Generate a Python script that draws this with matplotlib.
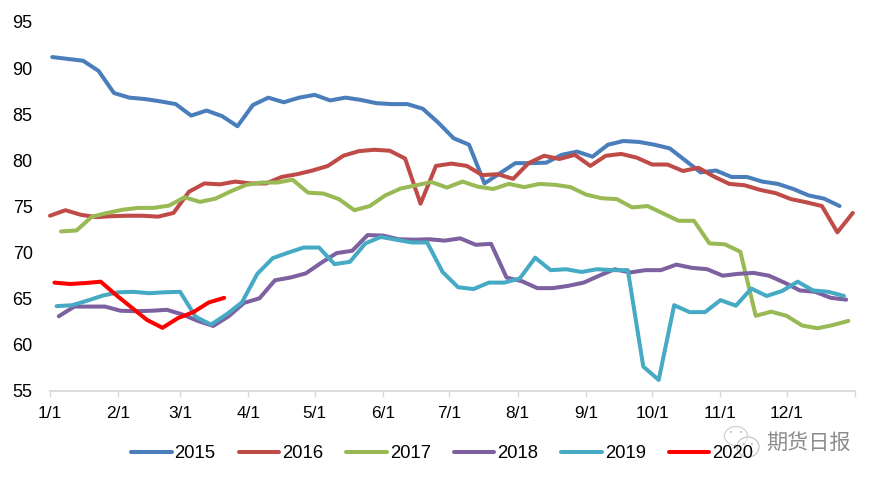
import matplotlib
matplotlib.use("Agg")
import matplotlib.pyplot as plt
from matplotlib.patches import Ellipse

plt.rcParams['font.family'] = ['Liberation Sans', 'DejaVu Sans']

years = ['2015', '2016', '2017', '2018', '2019', '2020']
colors = ['#4A7EBB', '#BE4B48', '#98B954', '#7D60A0', '#46AAC5', '#FF0000']

# first weekly observation of each year, as day of the year (0 = 1 Jan)
first_day = [1, 0, 5, 4, 3, 2]
days_per_step = 7

v2015 = [91.2, 91.0, 90.8, 89.7, 87.3, 86.8, 86.65, 86.4, 86.1, 84.85, 85.4, 84.8,
         83.7, 86.0, 86.8, 86.3, 86.8, 87.1, 86.5, 86.8, 86.55, 86.2, 86.1, 86.1, 85.6,
         84.1, 82.4, 81.7, 77.5, 78.6, 79.7, 79.7, 79.75, 80.6, 80.95, 80.4, 81.7, 82.1,
         82.0, 81.7, 81.3, 80.0, 78.7, 78.9, 78.2, 78.2, 77.7, 77.45, 76.9, 76.2, 75.85, 75.05]
v2016 = [74.0, 74.6, 74.1, 73.85, 73.95, 74.0, 74.0, 73.9, 74.3, 76.6, 77.5, 77.4, 77.7,
         77.5, 77.5, 78.2, 78.5, 78.9, 79.4, 80.5, 81.0, 81.15, 81.05, 80.2, 75.3, 79.4,
         79.65, 79.4, 78.4, 78.5, 78.0, 79.7, 80.5, 80.15, 80.6, 79.4, 80.5, 80.7, 80.3,
         79.55, 79.55, 78.85, 79.2, 78.25, 77.45, 77.3, 76.8, 76.45, 75.8, 75.45, 75.05, 72.2, 74.3]
v2017 = [72.3, 72.4, 73.9, 74.3, 74.65, 74.85, 74.85, 75.1, 76.0, 75.5, 75.85, 76.65, 77.35,
         77.6, 77.6, 77.9, 76.5, 76.4, 75.8, 74.6, 75.05, 76.2, 76.95, 77.3, 77.65,
         77.05, 77.7, 77.15, 76.9, 77.45, 77.1, 77.45, 77.35, 77.1, 76.3, 75.9, 75.8, 74.9,
         75.05, 74.25, 73.45, 73.45, 71.0, 70.9, 70.1, 63.15, 63.6, 63.15, 62.1, 61.8, 62.15, 62.6]
v2018 = [63.1, 64.15, 64.15, 64.15, 63.7, 63.65, 63.7, 63.8, 63.3, 62.6, 62.05, 63.1, 64.55,
         65.05, 67.0, 67.3, 67.75, 68.9, 69.95, 70.2, 71.9, 71.85, 71.45, 71.4, 71.45,
         71.3, 71.55, 70.85, 70.95, 67.3, 66.9, 66.15, 66.15, 66.4, 66.75, 67.5, 68.2, 67.85,
         68.1, 68.1, 68.7, 68.35, 68.2, 67.5, 67.7, 67.8, 67.5, 66.75, 65.9, 65.75, 65.1, 64.9]
v2019 = [64.2, 64.3, 64.8, 65.35, 65.7, 65.75, 65.6, 65.7, 65.75, 63.05, 62.2, 63.3, 64.6,
         67.7, 69.4, 70.0, 70.55, 70.55, 68.75, 69.0, 71.0, 71.7, 71.4, 71.1, 71.1, 67.9,
         66.25, 66.05, 66.75, 66.75, 67.2, 69.45, 68.1, 68.2, 67.9, 68.2, 68.1, 68.1,
         57.65, 56.2, 64.3, 63.55, 63.55, 64.85, 64.25, 66.1, 65.3, 65.85, 66.85, 65.9, 65.75, 65.3]
v2020 = [66.75, 66.6, 66.7, 66.85, 65.4, 64.05, 62.7, 61.85, 62.9, 63.55, 64.6, 65.1]
series = [v2015, v2016, v2017, v2018, v2019, v2020]

month_starts = [0, 31, 59, 90, 120, 151, 181, 212, 243, 273, 304, 334]
month_labels = ['1/1', '2/1', '3/1', '4/1', '5/1', '6/1', '7/1', '8/1', '9/1', '10/1', '11/1', '12/1']
year_length = 365
y_ticks = [55, 60, 65, 70, 75, 80, 85, 90, 95]

W, H = 878, 482
fig = plt.figure(figsize=(W / 100, H / 100), dpi=100, facecolor='white')
ax = fig.add_axes([50 / W, 1 - 391 / H, 805 / W, 369 / H])

handles = []
for name, vals, col, start in zip(years, series, colors, first_day):
    xs = [start + days_per_step * i for i in range(len(vals))]
    ln, = ax.plot(xs, vals, color=col, lw=2.9, solid_joinstyle='round',
                  solid_capstyle='round', label=name, clip_on=False)
    handles.append(ln)

ax.set_xlim(0, year_length)
ax.set_ylim(55, 95)
ax.set_xticks(month_starts + [year_length])
ax.set_xticklabels(month_labels + [''])
ax.set_yticks(y_ticks)
for s in ['top', 'right', 'left']:
    ax.spines[s].set_visible(False)
ax.spines['bottom'].set_color('#D9D9D9')
ax.spines['bottom'].set_linewidth(1.3)
ax.tick_params(axis='x', length=4, width=1.0, color='#D9D9D9', labelsize=12.4, pad=7, labelcolor='black')
ax.tick_params(axis='y', length=0, labelsize=13, pad=12.5, labelcolor='black')

leg = fig.legend(handles=handles, ncol=6, loc='center left',
                 bbox_to_anchor=(131 / W, 1 - 453.5 / H), frameon=False, fontsize=13.3,
                 handlelength=2.2, handletextpad=0.15, columnspacing=1.25,
                 borderpad=0, borderaxespad=0)
for t in leg.get_texts():
    t.set_color('black')

# watermark
overlay = fig.add_axes([0, 0, 1, 1], facecolor='none')
overlay.set_xlim(0, W)
overlay.set_ylim(H, 0)
overlay.axis('off')
overlay.add_patch(Ellipse((736, 436), 23, 19, fc=(1, 1, 1, 0.5), ec='#D0D0D0', lw=0.9))
overlay.add_patch(Ellipse((748, 447), 22, 20, fc=(1, 1, 1, 0.5), ec='#C8C8C8', lw=0.9))
for cx, cy in [(731, 432), (741, 432), (744, 444), (752, 444)]:
    overlay.add_patch(Ellipse((cx, cy), 2, 2, fc='#BDBDBD', ec='none'))
overlay.text(808, 443, '期货日报', family=['Noto Sans CJK SC', 'DejaVu Sans'], fontsize=15.2,
             color='#8C8C8C', ha='center', va='center')

fig.savefig('out.png', dpi=100, facecolor='white')
